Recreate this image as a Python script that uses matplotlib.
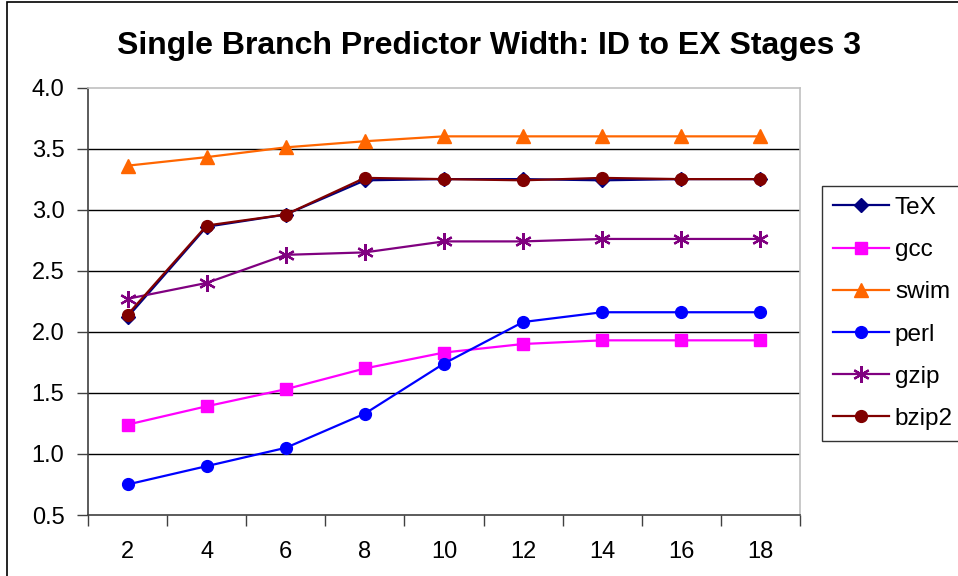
import matplotlib
matplotlib.use("Agg")
import matplotlib.pyplot as plt
from matplotlib.patches import Rectangle

plt.rcParams['font.family'] = ['Liberation Sans', 'DejaVu Sans']

# x categories (predictor width)
widths = ["2", "4", "6", "8", "10", "12", "14", "16", "18"]

tex = [2.12, 2.86, 2.96, 3.24, 3.25, 3.25, 3.24, 3.25, 3.25]
gcc = [1.24, 1.39, 1.53, 1.70, 1.83, 1.90, 1.93, 1.93, 1.93]
swim = [3.36, 3.43, 3.51, 3.56, 3.60, 3.60, 3.60, 3.60, 3.60]
perl = [0.75, 0.90, 1.05, 1.33, 1.74, 2.08, 2.16, 2.16, 2.16]
gzip = [2.27, 2.40, 2.63, 2.65, 2.74, 2.74, 2.76, 2.76, 2.76]
bzip2 = [2.14, 2.87, 2.96, 3.26, 3.25, 3.24, 3.26, 3.25, 3.25]

y_ticks = [0.5, 1.0, 1.5, 2.0, 2.5, 3.0, 3.5, 4.0]

fig = plt.figure(figsize=(9.58, 5.76), dpi=100)
ax = fig.add_axes([88 / 958, 61 / 576, 712 / 958, 427.5 / 576])

xs = list(range(len(widths)))

ax.plot(xs, tex, color='#000080', marker='D', ms=7.5, lw=1.6, label='TeX', zorder=3)
ax.plot(xs, gcc, color='#FF00FF', marker='s', ms=8.5, lw=1.6, label='gcc', zorder=3)
ax.plot(xs, swim, color='#FF6600', marker='^', ms=10, lw=1.6, label='swim', zorder=3)
ax.plot(xs, perl, color='#0000FF', marker='o', ms=8.5, lw=1.6, label='perl', zorder=3)
ax.plot(xs, gzip, color='#800080', marker=(6, 2, 0), ms=12, mew=1.6, lw=1.6,
        label='gzip', zorder=3)
ax.plot(xs, bzip2, color='#800000', marker='o', ms=8.5, lw=1.6, label='bzip2', zorder=4)

ax.set_xlim(-0.5, len(widths) - 0.5)
ax.set_ylim(0.5, 4.0)

# category ticks sit between the points, labels under the points
ax.set_xticks([i - 0.5 for i in range(len(widths) + 1)])
ax.set_xticklabels([])
ax.set_xticks(xs, minor=True)
ax.set_xticklabels(widths, minor=True)
ax.tick_params(axis='x', which='major', direction='out', length=8, width=1,
               color='#404040')
ax.tick_params(axis='x', which='minor', length=0, pad=19, labelsize=17)

ax.set_yticks(y_ticks)
ax.set_yticklabels(["%.1f" % v for v in y_ticks])
ax.tick_params(axis='y', direction='out', length=8, width=1, color='#404040',
               pad=9, labelsize=17)

for v in y_ticks[1:-1]:
    ax.axhline(v, color='black', lw=1, zorder=1)

ax.spines['left'].set_color('#404040')
ax.spines['bottom'].set_color('#404040')
ax.spines['top'].set_color('#c0c0c0')
ax.spines['right'].set_color('#c0c0c0')
for s in ax.spines.values():
    s.set_linewidth(1.2)

fig.text(489 / 958, 1 - 46 / 576, "Single Branch Predictor Width: ID to EX Stages 3",
         ha='center', va='center', fontsize=23, fontweight='bold')

leg = fig.legend(loc='upper left', bbox_to_anchor=(822 / 958, 1 - 186 / 576),
                 frameon=True, fancybox=False, edgecolor='black', fontsize=17.5,
                 handlelength=2.3, handletextpad=0.25, labelspacing=0.83,
                 borderpad=0.45, borderaxespad=0)
leg.get_frame().set_linewidth(1.0)

# outer chart border
fig.patches.append(Rectangle((7 / 958, -0.01), 1.0, 1 - 2 / 576 + 0.01,
                             transform=fig.transFigure, fill=False,
                             edgecolor='black', lw=1.2))

fig.savefig("out.png", dpi=100)
